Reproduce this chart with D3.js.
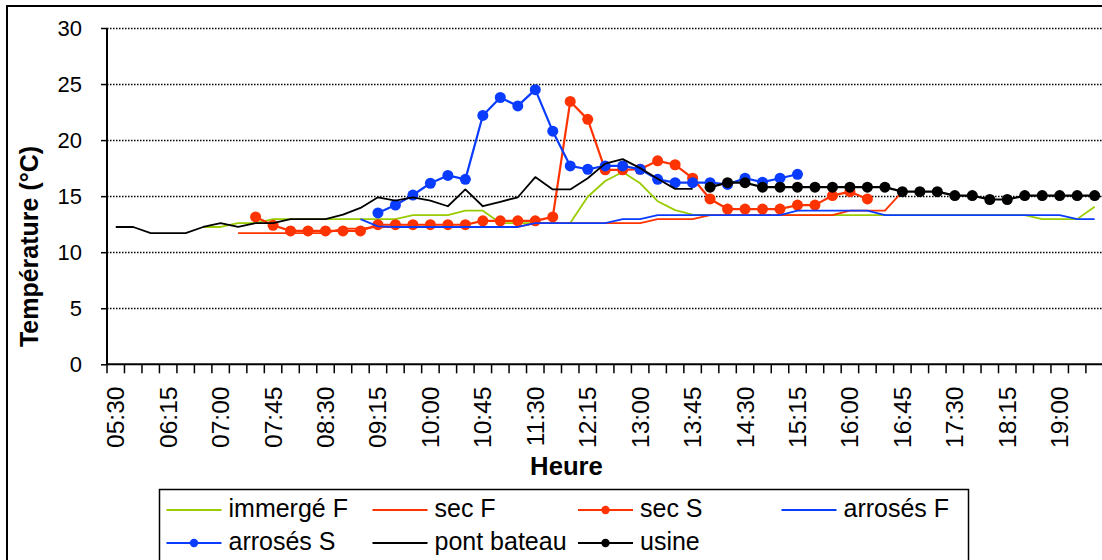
<!DOCTYPE html>
<html>
<head>
<meta charset="utf-8">
<script src="https://cdn.jsdelivr.net/npm/d3@7"></script>
<style>
  html, body { margin: 0; padding: 0; background: #fff; }
  svg { display: block; }
  text { font-family: "Liberation Sans", Arial, sans-serif; fill: #000; }
</style>
</head>
<body>
<svg id="chart" width="1102" height="560"></svg>
<script>
// ---------- DATA ----------
const categories = ["05:30","05:45","06:00","06:15","06:30","06:45","07:00","07:15","07:30","07:45",
  "08:00","08:15","08:30","08:45","09:00","09:15","09:30","09:45","10:00","10:15",
  "10:30","10:45","11:00","11:15","11:30","11:45","12:00","12:15","12:30","12:45",
  "13:00","13:15","13:30","13:45","14:00","14:15","14:30","14:45","15:00","15:15",
  "15:30","15:45","16:00","16:15","16:30","16:45","17:00","17:15","17:30","17:45",
  "18:00","18:15","18:30","18:45","19:00","19:15","19:30"];
const tickLabels = ["05:30","06:15","07:00","07:45","08:30","09:15","10:00","10:45","11:30","12:15",
  "13:00","13:45","14:30","15:15","16:00","16:45","17:30","18:15","19:00"];
const yTicks = [0, 5, 10, 15, 20, 25, 30];

const immergeF = [null,null,null,null,null, 12.25,12.25,12.6,12.6,12.95, 12.95,12.95,12.95,12.95,12.95,
  12.95,12.95,13.3,13.3,13.3, 13.7,13.7,12.6,12.6,12.6, 12.6,12.6,14.95,16.35,17.15,
  16.15,14.55,13.75,13.35,13.3, 13.3,13.3,13.3,13.3,13.3, 13.3,13.3,13.3,13.3,13.3,
  13.3,13.3,13.3,13.3,13.3, 13.3,13.3,13.3,12.95,12.95, 12.95,14.05];
const secF = [null,null,null,null,null, null,null,11.7,11.7,11.7, 11.7,11.7,11.7,12.1,12.1,
  12.25,12.25,12.25,12.25,12.25, 12.25,12.25,12.25,12.25,12.6, 12.6,12.6,12.6,12.6,12.6,
  12.6,12.95,12.95,12.95,13.3, 13.3,13.3,13.3,13.3,13.3, 13.3,13.3,13.7,13.7,13.7,
  15.4,null,null,null,null, null,null,null,null,null, null,null];
const secS = [null,null,null,null,null, null,null,null,13.15,12.4, 11.9,11.9,11.9,11.9,11.9,
  12.45,12.45,12.45,12.45,12.45, 12.45,12.8,12.8,12.8,12.8, 13.15,23.45,21.85,17.35,17.35,
  17.4,18.15,17.8,16.6,14.75, 13.85,13.85,13.85,13.85,14.2, 14.2,15.05,15.4,14.75,null,
  null,null,null,null,null, null,null,null,null,null, null,null];
const arrosesF = [null,null,null,null,null, null,null,null,null,null, null,null,null,null,12.95,
  12.3,12.25,12.25,12.25,12.25, 12.25,12.25,12.25,12.25,12.6, 12.6,12.6,12.6,12.6,12.95,
  12.95,13.3,13.3,13.3,13.3, 13.3,13.3,13.3,13.3,13.7, 13.7,13.7,13.7,13.7,13.3,
  13.3,13.3,13.3,13.3,13.3, 13.3,13.3,13.3,13.3,13.3, 12.95,12.95];
const arrosesS = [null,null,null,null,null, null,null,null,null,null, null,null,null,null,null,
  13.5,14.2,15.1,16.15,16.85, 16.5,22.2,23.8,23.05,24.5, 20.8,17.7,17.4,17.7,17.7,
  17.4,16.5,16.2,16.2,16.2, 16.05,16.6,16.25,16.6,16.95, null,null,null,null,null,
  null,null,null,null,null, null,null,null,null,null, null,null];
const pontBateau = [12.25,12.25,11.7,11.7,11.7, 12.25,12.6,12.25,12.6,12.6, 12.95,12.95,12.95,13.35,13.95,
  14.9,14.6,14.9,14.6,14.1, 15.6,14.1,14.5,14.9,16.7, 15.6,15.6,16.6,17.9,18.3,
  17.5,16.55,15.65,15.65,null, null,null,null,null,null, null,null,null,null,null,
  null,null,null,null,null, null,null,null,null,null, null,null];
const usine = [null,null,null,null,null, null,null,null,null,null, null,null,null,null,null,
  null,null,null,null,null, null,null,null,null,null, null,null,null,null,null,
  null,null,null,null,15.8, 16.2,16.2,15.8,15.8,15.8, 15.8,15.8,15.8,15.8,15.8,
  15.4,15.4,15.4,15.05,15.05, 14.7,14.7,15.05,15.05,15.05, 15.05,15.05];

const seriesNames = ["immergé F","sec F","sec S","arrosés F","arrosés S","pont bateau","usine"];
const seriesValues = [immergeF, secF, secS, arrosesF, arrosesS, pontBateau, usine];
const seriesColors = ["#99CC00","#FF3300","#FF3300","#0A3CFF","#0A3CFF","#000000","#000000"];
const seriesMarkers = [false,false,true,false,true,false,true];

// ---------- LAYOUT ----------
const svg = d3.select("#chart");
const plotLeft = 107, plotRight = 1103.4, plotTop = 28, plotBottom = 364.3;

const x = d3.scaleBand().domain(categories).range([plotLeft, plotRight]).padding(0);
const cx = c => x(c) + x.bandwidth() / 2;
const y = d3.scaleLinear().domain([0, 30]).range([plotBottom, plotTop]);

// outer chart frame (extends beyond the visible picture)
svg.append("rect").attr("x", 7).attr("y", 6).attr("width", 1300).attr("height", 800)
  .attr("fill", "none").attr("stroke", "#000").attr("stroke-width", 2);

// gridlines
svg.append("g").selectAll("line").data(yTicks.filter(v => v > 0)).join("line")
  .attr("x1", plotLeft).attr("x2", 1102)
  .attr("y1", d => Math.round(y(d)) + 0.5).attr("y2", d => Math.round(y(d)) + 0.5)
  .attr("stroke", "#000").attr("stroke-width", 1.5).attr("stroke-dasharray", "1.5,1.5");

// y axis
const yAxis = d3.axisLeft(y).tickValues(yTicks).tickSize(6).tickPadding(19).tickFormat(d3.format("d"));
const gy = svg.append("g").attr("transform", `translate(${plotLeft},0)`).call(yAxis);
gy.select(".domain").attr("stroke", "#000").attr("stroke-width", 2).attr("d", `M0,${plotTop}V${plotBottom}`);
gy.selectAll(".tick line").attr("stroke", "#000").attr("stroke-width", 1.5);
gy.selectAll(".tick text").attr("font-size", 22).attr("font-family", "Liberation Sans, Arial, sans-serif").attr("fill", "#000");

// x axis (tick marks between categories)
const xAxis = d3.axisBottom(x).tickSize(0).tickFormat("");
const gx = svg.append("g").attr("transform", `translate(0,${plotBottom})`).call(xAxis);
gx.select(".domain").attr("stroke", "#000").attr("stroke-width", 2).attr("d", `M${plotLeft},0H1102`);
svg.append("g").selectAll("line").data(categories).join("line")
  .attr("x1", d => x(d)).attr("x2", d => x(d))
  .attr("y1", plotBottom).attr("y2", plotBottom + 9)
  .attr("stroke", "#000").attr("stroke-width", 1.5);

// x labels
svg.append("g").selectAll("text").data(tickLabels).join("text")
  .attr("transform", d => `translate(${cx(d) + 8.5},386.5) rotate(-90)`)
  .attr("text-anchor", "end")
  .attr("font-size", 24.6)
  .text(d => d);

// axis titles
svg.append("text").attr("transform", "translate(38,246.5) rotate(-90)")
  .attr("text-anchor", "middle").attr("font-weight", "bold").attr("font-size", 25)
  .text("Température (°C)");
svg.append("text").attr("x", 566.5).attr("y", 475).attr("text-anchor", "middle")
  .attr("font-weight", "bold").attr("font-size", 25.7).text("Heure");

// series
const line = d3.line().defined(d => d.v != null).x(d => cx(d.c)).y(d => y(d.v));
const gSeries = svg.append("g");
seriesValues.forEach((vals, k) => {
  const pts = categories.map((c, i) => ({ c, v: vals[i] }));
  const g = gSeries.append("g");
  g.append("path").attr("d", line(pts)).attr("fill", "none")
    .attr("stroke", seriesColors[k]).attr("stroke-width", seriesMarkers[k] ? 2.2 : 1.8)
    .attr("stroke-linejoin", "round");
  if (seriesMarkers[k]) {
    g.selectAll("circle").data(pts.filter(d => d.v != null)).join("circle")
      .attr("cx", d => cx(d.c)).attr("cy", d => y(d.v)).attr("r", 5.5)
      .attr("fill", seriesColors[k]);
  }
});

// legend
const lg = svg.append("g");
lg.append("rect").attr("x", 159.5).attr("y", 489.5).attr("width", 809).attr("height", 120)
  .attr("fill", "#fff").attr("stroke", "#000").attr("stroke-width", 1.5);
const legendCols = [166.5, 372.5, 578, 781.5];
const legendRows = [510, 543];
seriesNames.forEach((name, k) => {
  const col = k % 4, row = Math.floor(k / 4);
  const lx = legendCols[col], ly = legendRows[row];
  lg.append("line").attr("x1", lx).attr("x2", lx + 55).attr("y1", ly).attr("y2", ly)
    .attr("stroke", seriesColors[k]).attr("stroke-width", 2);
  if (seriesMarkers[k]) {
    lg.append("circle").attr("cx", lx + 27.5).attr("cy", ly).attr("r", 4.2).attr("fill", seriesColors[k]);
  }
  lg.append("text").attr("x", lx + 62).attr("y", ly + 6.5).attr("font-size", 25).text(name);
});
</script>
</body>
</html>
